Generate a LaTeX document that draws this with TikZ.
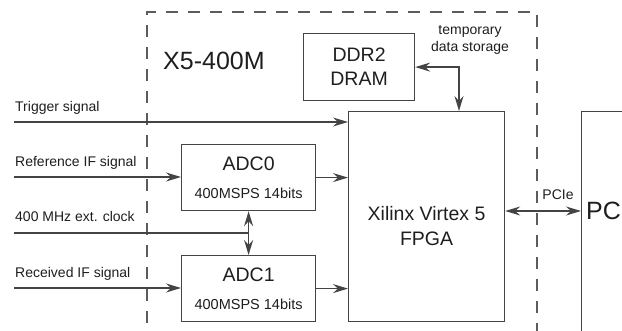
\documentclass[tikz,border=0pt]{standalone}
\usepackage{fontspec}
\setmainfont{Liberation Sans}
\usepackage{tikz}
\usetikzlibrary{arrows.meta,positioning,calc}
\usepackage{xcolor}
\definecolor{Ink}{HTML}{1E1E1E}
\definecolor{Wire}{HTML}{444444}
\definecolor{Frame}{HTML}{5C5C5C}
\newcommand{\lblfont}{\fontsize{14}{17}\selectfont}
\newcommand{\blkfont}{\fontsize{19.5}{24}\selectfont}
\newcommand{\ttlfont}{\fontsize{25}{28}\selectfont}
\tikzset{
  blockbox/.style={draw=Wire,line width=1.2pt,inner sep=0pt,anchor=north west,text=Ink,align=center,font=\blkfont},
  siglabel/.style={anchor=base west,inner sep=0pt,font=\lblfont,text=Ink},
  wire/.style={Wire,line width=1.2pt},
}

\begin{document}
\begin{tikzpicture}[x=1pt,y=-1pt,>={Stealth[length=15pt,width=9pt,inset=5pt]}]
\useasboundingbox (0,0) rectangle (622,331);
% board frame
\draw[Frame,line width=1.3pt,dash pattern=on 12pt off 10pt] (147,345) -- (147,12) -- (537,12) -- (537,345);
\node[anchor=base west,inner sep=0pt,font=\ttlfont,text=Ink] (board) at (163,70) {X5-400M};
% blocks
\node[blockbox,minimum width=111pt,minimum height=67pt] (ddr) at (303,33) {DDR2\\DRAM};
\node[blockbox,minimum width=156pt,minimum height=210pt,
  label={[font=\blkfont,align=center,text=Ink,yshift=-9pt]center:Xilinx Virtex 5\\[1pt]FPGA}] (fpga) at (348,111) {};
\node[blockbox,minimum width=134pt,minimum height=66pt] (adc0) at (181,144) {ADC0\\[4pt]{\fontsize{14.5}{17}\selectfont 400MSPS 14bits}};
\node[blockbox,minimum width=134pt,minimum height=66pt] (adc1) at (181,255) {ADC1\\[4pt]{\fontsize{14.5}{17}\selectfont 400MSPS 14bits}};
\node[blockbox,minimum width=80pt,minimum height=260pt] (pc) at (581,111) {};
% signal inputs
\coordinate (trigin) at (14,122);
\coordinate (refin) at (14,177);
\coordinate (clkin) at (14,233);
\coordinate (rxin) at (14,288);
\coordinate (ddrport) at (459,111);
\coordinate (pcie) at (542,211);
\node[siglabel] (triglbl) at (15,112) {Trigger signal};
\node[siglabel] (reflbl) at (15,167) {Reference IF signal};
\node[siglabel] (clklbl) at (15,222) {400 MHz ext. clock};
\node[siglabel] (rxlbl) at (15,278) {Received IF signal};
\node[inner sep=0pt,align=center,font=\lblfont,text=Ink] (storelbl) at (470,40) {temporary\\data storage};
\node[inner sep=0pt,font=\lblfont,text=Ink] (pcielbl) at (558,195) {PCIe};
\node[anchor=west,inner sep=0pt,font=\ttlfont,text=Ink] (pclbl) at ($(pc.west |- pcie)+(5,0)$) {PC};
% connections
\draw[wire,->] (trigin) -- (trigin -| fpga.west);
\draw[wire,->] (refin) -- (refin -| adc0.west);
\draw[wire,->] (rxin) -- (rxin -| adc1.west);
\draw[wire] (clkin) -- (clkin -| adc0.south);
\draw[wire,<->] (adc0.south) -- (adc1.north);
\draw[wire,->] (adc0.east) -- (adc0.east -| fpga.west);
\draw[wire,->] (adc1.east) -- (adc1.east -| fpga.west);
\draw[wire,<->] (ddr.east) -| (ddrport);
\draw[wire,<->] (pcie -| fpga.east) -- (pcie -| pc.west);
\end{tikzpicture}
\end{document}
